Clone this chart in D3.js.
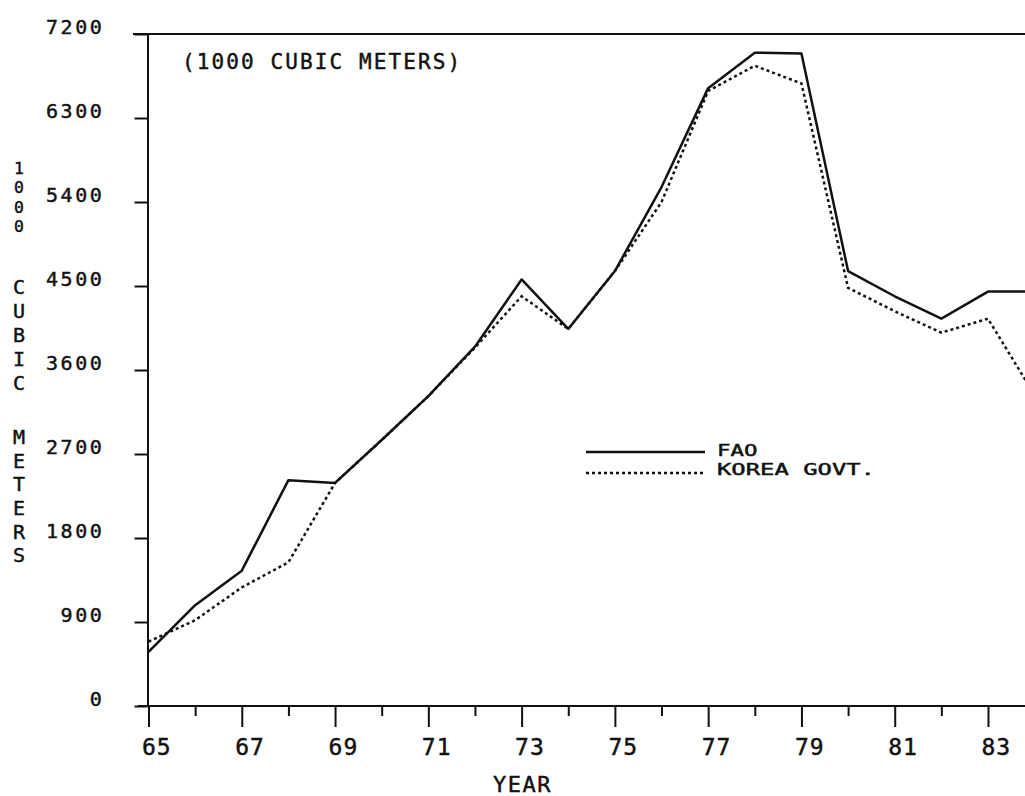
<!DOCTYPE html>
<html>
<head>
<meta charset="utf-8">
<script src="https://d3js.org/d3.v7.min.js"></script>
<style>
    body { margin: 0; background: #fff; }
    svg { display: block; }
    .lbl { font-family: 'DejaVu Sans Mono', monospace; fill: #111; stroke: #111; stroke-width: 0.45px; }
</style>
</head>
<body>
<svg id="chart" width="1025" height="796"></svg>
<script>
// data (thousand cubic meters)
const years = [65, 66, 67, 68, 69, 70, 71, 72, 73, 74, 75, 76, 77, 78, 79, 80, 81, 82, 83, 84];
const fao = [580, 1080, 1450, 2420, 2390, 2850, 3320, 3850, 4570, 4040, 4660, 5560, 6620, 7000, 6990, 4660, 4390, 4150, 4440, 4440];
const korea = [690, 920, 1270, 1540, 2390, 2850, 3320, 3840, 4390, 4040, 4660, 5400, 6590, 6860, 6670, 4480, 4230, 4000, 4150, 3330];
const yTicks = [0, 900, 1800, 2700, 3600, 4500, 5400, 6300, 7200];
const xMajor = [65, 67, 69, 71, 73, 75, 77, 79, 81, 83];
const xMinor = [66, 68, 70, 72, 74, 76, 78, 80, 82, 84];
const yTitleWords = ["1000", "CUBIC", "METERS"];
const legendNames = ["FAO", "KOREA GOVT."];

const svg = d3.select("#chart");
const ink = "#111";

const x = d3.scaleLinear().domain([65, 83]).range([148.5, 988]);
const y = d3.scaleLinear().domain([0, 7200]).range([706, 34]);

// y axis: ticks to the left, labels sitting just above each tick
const yAx = svg.append("g").attr("transform", "translate(147.5,0)")
    .call(d3.axisLeft(y).tickValues(yTicks).tickSize(13).tickSizeOuter(0).tickFormat(d => d));
yAx.select(".domain").attr("stroke", ink).attr("stroke-width", 2);
yAx.selectAll(".tick line").attr("stroke", ink).attr("stroke-width", 2);
yAx.selectAll(".tick text")
    .attr("class", "lbl")
    .attr("x", -43).attr("dy", -1)
    .style("font-size", "20px").style("letter-spacing", "2.6px")
    .attr("text-anchor", "end");

// top border (continues the 7200 tick)
svg.append("line").attr("x1", 133).attr("x2", 1025).attr("y1", y(7200)).attr("y2", y(7200))
    .attr("stroke", ink).attr("stroke-width", 2);

// x axis baseline
svg.append("line").attr("x1", 138).attr("x2", 1025).attr("y1", y(0)).attr("y2", y(0))
    .attr("stroke", ink).attr("stroke-width", 2);

const xAx = svg.append("g").attr("transform", `translate(0,${y(0)})`)
    .call(d3.axisBottom(x).tickValues(xMajor).tickSize(21).tickSizeOuter(0).tickFormat(d => d));
xAx.select(".domain").remove();
xAx.selectAll(".tick line").attr("stroke", ink).attr("stroke-width", 2);
xAx.selectAll(".tick text")
    .attr("class", "lbl")
    .attr("y", 49).attr("dy", 0)
    .attr("x", -7)
    .attr("text-anchor", "start")
    .style("font-size", "23px").style("letter-spacing", "1px");

const xMin = svg.append("g").attr("transform", `translate(0,${y(0)})`)
    .call(d3.axisBottom(x).tickValues(xMinor).tickSize(10).tickSizeOuter(0).tickFormat(""));
xMin.select(".domain").remove();
xMin.selectAll(".tick line").attr("stroke", ink).attr("stroke-width", 2);

svg.append("text").attr("class", "lbl")
    .attr("x", 493).attr("y", 792)
    .style("font-size", "22px").style("letter-spacing", "1.5px")
    .text("YEAR");

// vertical stacked y title, one letter per tspan
const cy = [168, 287, 437];
const pitch = [19.3, 24, 23.6];
const sizes = [16.4, 20, 20];
const ttl = svg.append("text").attr("class", "lbl").attr("text-anchor", "middle");
yTitleWords.forEach((w, i) => {
    w.split("").forEach((c, j) => {
        ttl.append("tspan")
            .attr("x", 19)
            .attr("y", cy[i] + j * pitch[i] + sizes[i] * 0.36)
            .style("font-size", sizes[i] + "px")
            .text(c);
    });
});

// unit note inside plot
svg.append("text").attr("class", "lbl")
    .attr("x", 182).attr("y", 69)
    .style("font-size", "21px").style("letter-spacing", "2.1px")
    .text("(1000 CUBIC METERS)");

// series
const line = d3.line().x((d, i) => x(years[i])).y(d => y(d));
svg.append("path").datum(fao)
    .attr("fill", "none").attr("stroke", ink).attr("stroke-width", 2.5)
    .attr("stroke-linejoin", "round")
    .attr("d", line);
svg.append("path").datum(korea)
    .attr("fill", "none").attr("stroke", ink).attr("stroke-width", 2.5)
    .attr("stroke-dasharray", "3,3")
    .attr("d", line);

// legend
svg.append("line").attr("x1", 586).attr("x2", 705).attr("y1", 452).attr("y2", 452)
    .attr("stroke", ink).attr("stroke-width", 2.5);
svg.append("line").attr("x1", 586).attr("x2", 705).attr("y1", 473).attr("y2", 473)
    .attr("stroke", ink).attr("stroke-width", 2.5).attr("stroke-dasharray", "3,3");
svg.append("g").selectAll("text").data(legendNames).join("text")
    .attr("class", "lbl")
    .attr("x", 717)
    .attr("y", (d, i) => 455.5 + i * 19.5)
    .attr("textLength", d => d.length * 14.7 - 3.7)
    .attr("lengthAdjust", "spacingAndGlyphs")
    .style("font-size", "16.4px")
    .text(d => d);
</script>
</body>
</html>
